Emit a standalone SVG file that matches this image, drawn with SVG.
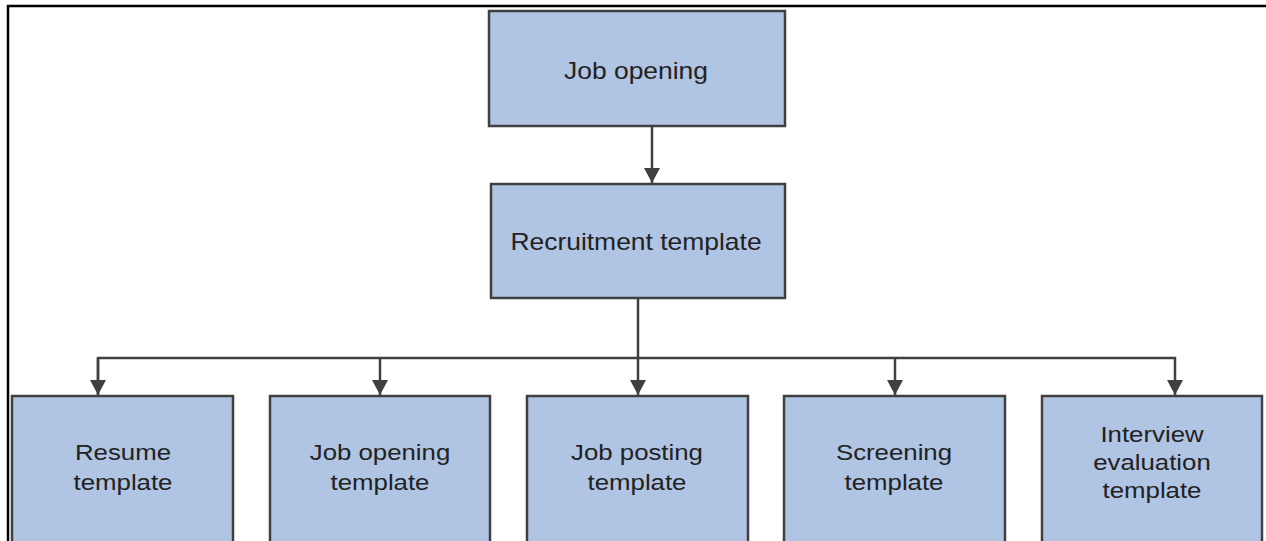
<svg xmlns="http://www.w3.org/2000/svg" width="1266" height="541" viewBox="0 0 1266 541">
  <style>
    .box { fill: #B0C4E3; stroke: #404040; stroke-width: 2.5; }
    .lbl { font-family: "Liberation Sans", Arial, sans-serif; fill: #222222; text-anchor: middle; }
    .top { font-size: 23px; }
    .bot { font-size: 21.5px; }
    .conn { fill: none; stroke: #404040; stroke-width: 2.5; }
    .frame { fill: none; stroke: #000000; stroke-width: 2.5; }
  </style>
  <defs>
    <marker id="arrow" markerUnits="userSpaceOnUse" markerWidth="18" markerHeight="16" refX="15" refY="8" orient="auto">
      <path d="M0,0 L15,8 L0,16 Z" fill="#404040"/>
    </marker>
  </defs>

  <rect width="1266" height="541" fill="#ffffff"/>
  <path class="frame" d="M8,541 L8,6 L1266,6"/>

  <g id="connectors">
    <path class="conn" d="M652,126 L652,183" marker-end="url(#arrow)"/>
    <path class="conn" d="M638,298 L638,395" marker-end="url(#arrow)"/>
    <path class="conn" d="M98,395 L98,358 L1175,358 L1175,395" marker-end="url(#arrow)"/>
    <path class="conn" d="M98,358 L98,395" marker-end="url(#arrow)"/>
    <path class="conn" d="M380,358 L380,395" marker-end="url(#arrow)"/>
    <path class="conn" d="M895,358 L895,395" marker-end="url(#arrow)"/>
  </g>

  <g id="job-opening">
    <rect class="box" x="489" y="11" width="296" height="115"/>
    <text class="lbl top" transform="translate(636,79) scale(1.15,1)">Job opening</text>
  </g>

  <g id="recruitment-template">
    <rect class="box" x="491" y="184" width="294" height="114"/>
    <text class="lbl top" transform="translate(636,250) scale(1.15,1)">Recruitment template</text>
  </g>

  <g id="resume-template">
    <rect class="box" x="12" y="396" width="221" height="160"/>
    <text class="lbl bot" transform="translate(123,460) scale(1.2,1)">Resume</text>
    <text class="lbl bot" transform="translate(123,490) scale(1.2,1)">template</text>
  </g>

  <g id="job-opening-template">
    <rect class="box" x="270" y="396" width="220" height="160"/>
    <text class="lbl bot" transform="translate(380,460) scale(1.2,1)">Job opening</text>
    <text class="lbl bot" transform="translate(380,490) scale(1.2,1)">template</text>
  </g>

  <g id="job-posting-template">
    <rect class="box" x="527" y="396" width="221" height="160"/>
    <text class="lbl bot" transform="translate(637,460) scale(1.2,1)">Job posting</text>
    <text class="lbl bot" transform="translate(637,490) scale(1.2,1)">template</text>
  </g>

  <g id="screening-template">
    <rect class="box" x="784" y="396" width="221" height="160"/>
    <text class="lbl bot" transform="translate(894,460) scale(1.2,1)">Screening</text>
    <text class="lbl bot" transform="translate(894,490) scale(1.2,1)">template</text>
  </g>

  <g id="interview-evaluation-template">
    <rect class="box" x="1042" y="396" width="220" height="160"/>
    <text class="lbl bot" transform="translate(1152,442) scale(1.2,1)">Interview</text>
    <text class="lbl bot" transform="translate(1152,470) scale(1.2,1)">evaluation</text>
    <text class="lbl bot" transform="translate(1152,498) scale(1.2,1)">template</text>
  </g>
</svg>
